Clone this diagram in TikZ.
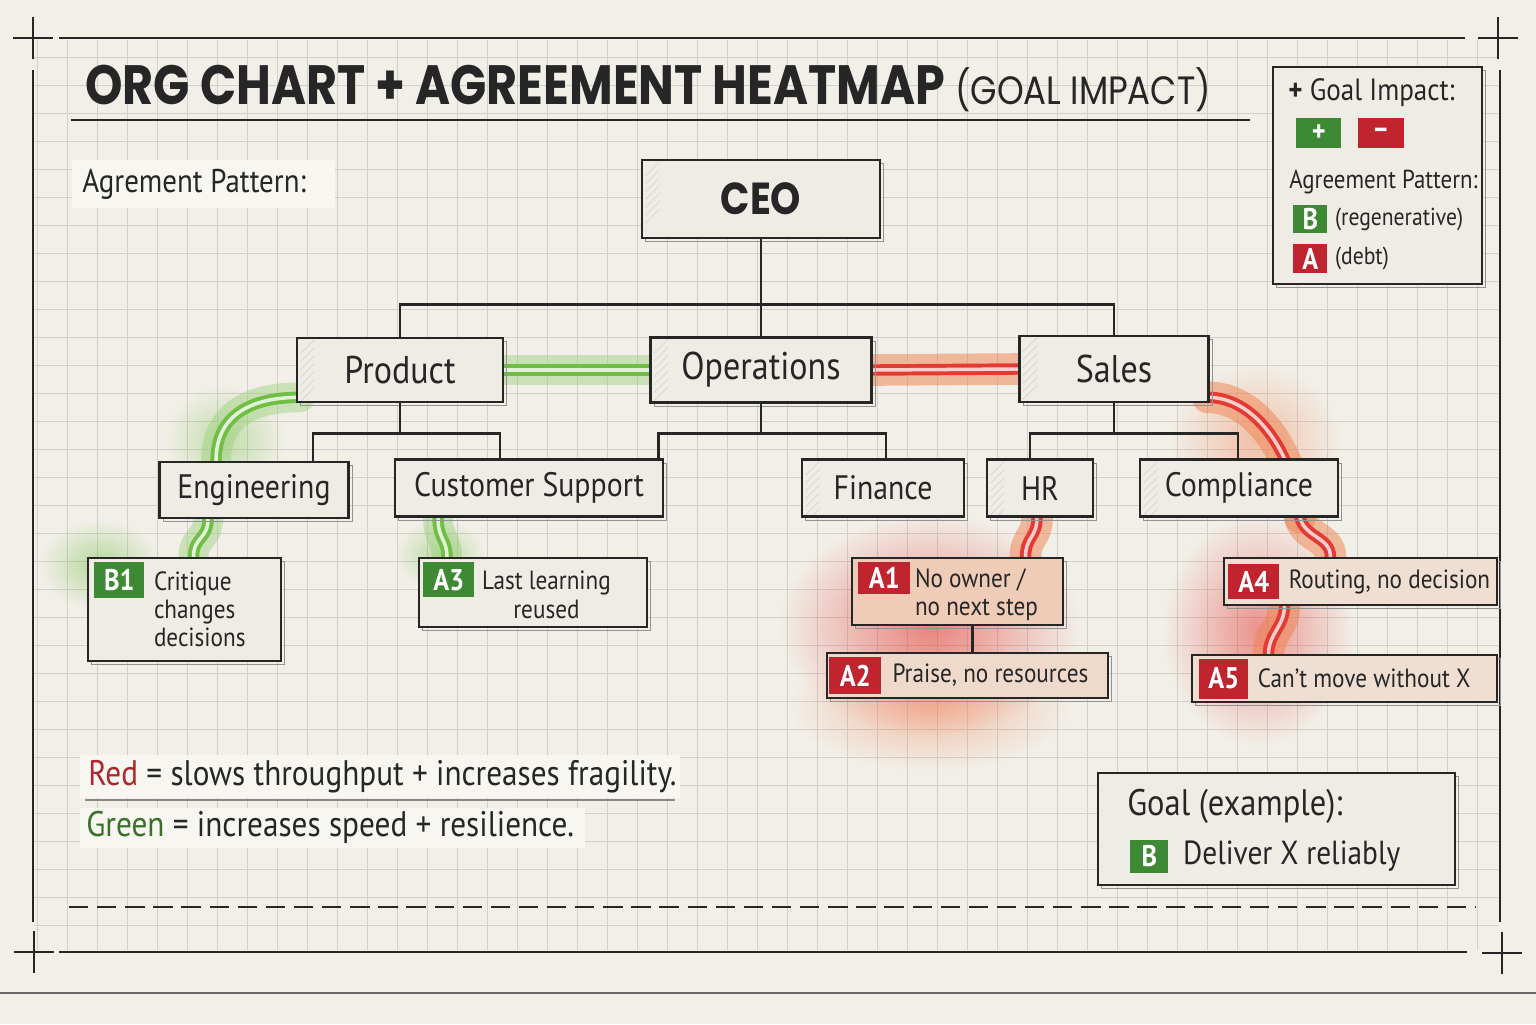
\documentclass[tikz,border=0pt]{standalone}
\usepackage{fontspec}
\setmainfont{PT Sans}[FakeStretch=0.88]
\newfontfamily\headfont{Poppins}[FakeStretch=0.86]
\usepackage{tikz}
\usetikzlibrary{positioning,calc,shadows,fadings,backgrounds}

\definecolor{paper}{RGB}{242,239,232}
\definecolor{paperlite}{RGB}{248,246,241}
\definecolor{gridc}{RGB}{210,208,202}
\definecolor{ink}{RGB}{38,38,38}
\definecolor{boxfill}{RGB}{239,236,229}
\definecolor{tagg}{RGB}{62,138,52}
\definecolor{tagr}{RGB}{192,36,46}
\definecolor{glowg}{RGB}{112,190,68}
\definecolor{glowr}{RGB}{228,58,52}
\definecolor{heato}{RGB}{240,130,80}
\definecolor{txtred}{RGB}{172,40,44}
\definecolor{txtgreen}{RGB}{58,112,40}

\newcommand\fsz[2]{\fontsize{#1}{#2}\selectfont}

\tikzfading[name=softspot, inner color=transparent!15, outer color=transparent!100]

\tikzset{
  sz/.style 2 args={minimum width=#1*0.2mm, minimum height=#2*0.2mm, inner sep=0pt},
  orgbox/.style={draw=ink, line width=1.5pt, fill=boxfill, text=ink,
    copy shadow={shadow xshift=2.2pt, shadow yshift=-2.2pt, draw=ink!50, line width=.7pt, fill=none}},
  hatched/.style={path picture={\foreach \k in {2,...,8}
      \draw[ink!22, line width=.3pt] ([xshift=2pt, yshift=-\k*4.5pt]path picture bounding box.north west) -- ++(8pt,8pt);}},
  level1/.style={orgbox, font=\fsz{22pt}{24pt}},
  level2/.style={orgbox, line width=1.3pt, font=\fsz{19.3pt}{21pt}},
  notebox/.style={orgbox, line width=1.2pt},
  notetext/.style={inner sep=0pt, font=\fsz{15pt}{16pt}},
  legtext/.style={inner sep=0pt, font=\fsz{14pt}{16pt}},
  tag/.style={fill=#1, text=white, font=\bfseries\fsz{17pt}{18pt}},
  tree/.style={draw=ink, line width=1.6pt},
  goodlink/.style={draw=glowg, line width=6.5pt, line cap=round,
    preaction={draw=glowg!70, line width=17pt, opacity=.45, line cap=round},
    postaction={draw=white!80!glowg, line width=2pt}},
  badlink/.style={draw=glowr, line width=6.5pt, line cap=round,
    preaction={draw=heato, line width=18pt, opacity=.5, line cap=round},
    postaction={draw=white!75!glowr, line width=2pt}}
}

\begin{document}
\begin{tikzpicture}[x=0.2mm, y=-0.2mm, every node/.style={text=ink}]
  \useasboundingbox (0,0) rectangle (1536,1024);

  % paper, grid and frame
  \begin{scope}[on background layer]
    \fill[paper] (0,0) rectangle (1536,1024);
    \foreach \gx in {37,67,...,1497} \draw[gridc, line width=.4pt] (\gx,40) -- (\gx,950);
    \foreach \gy in {57,85,...,950} \draw[gridc, line width=.4pt] (34,\gy) -- (1498,\gy);
    \draw[ink, line width=1.6pt] (59,38) -- (1465,38) (59,952) -- (1467,952) (33,70) -- (33,922) (1500,70) -- (1500,922);
    \foreach \cx/\cy in {33/38, 1498/38, 34/952, 1502/953}
      \draw[ink, line width=1.6pt] (\cx-20,\cy) -- (\cx+20,\cy) (\cx,\cy-21) -- (\cx,\cy+21);
    \draw[ink!70, line width=1pt] (0,993) -- (1536,993);
    \draw[ink, line width=1.3pt, dash pattern=on 11pt off 5pt] (69,907) -- (1475,907);
    \fill[paperlite] (72,160) rectangle (335,208);
    \fill[paperlite] (80,755) rectangle (680,798);
    \fill[paperlite] (80,808) rectangle (585,848);
  \end{scope}

  % title
  \node[anchor=west, inner sep=0pt, font=\headfont\bfseries\fsz{31.5pt}{34pt}] (title) at (85,88)
    {ORG CHART + AGREEMENT HEATMAP {\mdseries\fsz{22.5pt}{24pt}(GOAL IMPACT)}};
  \draw[ink, line width=1.6pt] (71,120) -- (1250,120);
  \node[anchor=west, inner sep=0pt, font=\fsz{18.7pt}{20pt}] (patlabel) at (82,184) {Agrement Pattern:};

  % org chart
  \node[orgbox, sz={238}{78}, hatched, font=\headfont\bfseries\fsz{25.5pt}{28pt}] (ceo) at (761,199) {CEO};
  \node[level1, sz={206}{64}, hatched] (prod) at (400,370) {Product};
  \node[level1, sz={221}{65}, hatched] (ops) at (761,370) {Operations};
  \node[level1, sz={189}{66}, hatched] (sales) at (1114,369) {Sales};
  \node[level2, sz={189}{56}] (eng) at (254,490) {Engineering};
  \node[level2, sz={268}{57}] (cs) at (529,488) {Customer Support};
  \node[level2, sz={162}{57}, hatched] (fin) at (883,488) {Finance};
  \node[level2, sz={106}{57}, hatched] (hr) at (1040,488) {HR};
  \node[level2, sz={198}{57}, hatched] (comp) at (1239,488) {Compliance};

  \draw[tree] (ceo.south) -- ++(0,65) coordinate (topbus);
  \draw[tree] (prod.north) |- (topbus) -| (sales.north);
  \draw[tree] (topbus) -- (ops.north);
  \draw[tree] (prod.south) -- ++(0,30) coordinate (pbus);
  \draw[tree] ($(eng.north)+(59,0)$) |- (pbus) -| ($(cs.north)+(-29,0)$);
  \draw[tree] (ops.south) -- ++(0,30) coordinate (obus);
  \draw[tree] ($(cs.north east)+(-6,0)$) |- (obus) -| ($(fin.north)+(3,0)$);
  \draw[tree] (sales.south) -- ++(0,30) coordinate (sbus);
  \draw[tree] ($(hr.north)+(-10,0)$) |- (sbus) -| ($(comp.north)+(-1,0)$);

  % agreement notes
  \node[notebox, sz={193}{103}] (b1) at (184.5,609.5) {};
  \node[tag=tagg, sz={50}{36}, anchor=north west] (b1tag) at ($(b1.north west)+(7,5)$) {B1};
  \node[notetext, anchor=north west, align=left] (b1txt) at ($(b1tag.north east)+(9,9)$) {Critique\\changes\\decisions};

  \node[notebox, sz={228}{69}] (a3) at (533,592.5) {};
  \node[tag=tagg, sz={51}{35}, anchor=north west] (a3tag) at ($(a3.north west)+(5,5)$) {A3};
  \node[notetext, anchor=north west, align=center] (a3txt) at ($(a3tag.north east)+(7,9)$) {Last learning\\reused};

  \node[notebox, sz={211}{67}, fill=boxfill!70!heato] (a1) at (957.5,591.5) {};
  \node[tag=tagr, sz={52}{32}, anchor=north west] (a1tag) at ($(a1.north west)+(7,5)$) {A1};
  \node[notetext, anchor=north west, align=left] (a1txt) at ($(a1tag.north east)+(4,6)$) {No owner /\\no next step};

  \node[notebox, sz={281}{45}, fill=boxfill!82!heato] (a2) at (967.5,675.5) {};
  \node[tag=tagr, sz={52}{37}, anchor=west] (a2tag) at ($(a2.west)+(3,0)$) {A2};
  \node[notetext, right=6pt of a2tag] (a2txt) {Praise, no resources};

  \node[notebox, sz={273}{47}, fill=boxfill!88!heato] (a4) at (1360.5,581.5) {};
  \node[tag=tagr, sz={51}{35}, anchor=west] (a4tag) at ($(a4.west)+(5,0)$) {A4};
  \node[notetext, right=5pt of a4tag] (a4txt) {Routing, no decision};

  \node[notebox, sz={305}{47}, fill=boxfill!88!heato] (a5) at (1344.5,678.5) {};
  \node[tag=tagr, sz={49}{40}, anchor=west] (a5tag) at ($(a5.west)+(8,0)$) {A5};
  \node[notetext, right=5pt of a5tag] (a5txt) {Can’t move without X};

  \draw[tree, line width=1.3pt] ($(a1.south)+(15,0)$) coordinate (a1foot) -- (a1foot |- a2.north);

  % heat and agreement links, behind the boxes
  \begin{scope}[on background layer]
    \fill[glowr, path fading=softspot, opacity=.7] (930,625) ellipse (150 and 110);
    \fill[heato, path fading=softspot, opacity=.55] (930,705) ellipse (140 and 65);
    \fill[glowr, path fading=softspot, opacity=.6] (1258,630) ellipse (95 and 115);
    \fill[heato, path fading=softspot, opacity=.5] (1255,440) ellipse (85 and 75);
    \fill[glowg, path fading=softspot, opacity=.55] (100,565) ellipse (60 and 45);
    \fill[glowg, path fading=softspot, opacity=.5] (440,555) ellipse (45 and 35);
    \fill[glowg, path fading=softspot, opacity=.45] (225,440) ellipse (60 and 55);

    \draw[goodlink] (prod.east) -- (ops.west);
    \draw[goodlink] ($(prod.south west)+(4,-6)$) .. controls +(-50,0) and +(0,-45) .. ($(eng.north)+(-38,0)$);
    \draw[goodlink] ($(eng.south)+(-46,0)$) .. controls +(0,20) and +(0,-20) .. ($(b1.north)+(9,0)$);
    \draw[goodlink] ($(cs.south)+(-91,0)$) .. controls +(0,22) and +(0,-18) .. ($(a3.north)+(-86,0)$);

    \draw[badlink] (ops.east) -- (sales.west);
    \draw[badlink] ($(sales.south east)+(-2,-6)$) .. controls +(50,0) and +(-5,-60) .. ($(comp.south)+(61,0)$);
    \draw[badlink] ($(comp.south)+(61,0)$) .. controls +(5,20) and +(0,-20) .. ($(a4.north)+(-30,0)$);
    \draw[badlink] ($(a4.south)+(-76,0)$) .. controls +(0,20) and +(0,-20) .. ($(a5.north)+(-76,0)$);
    \draw[badlink] ($(hr.south)+(-3,0)$) .. controls +(0,20) and +(0,-20) .. ($(a1.north)+(68,0)$);
  \end{scope}

  % legend
  \node[notebox, line width=1.3pt, sz={209}{217}] (legend) at (1377.5,175.5) {};
  \node[legtext, anchor=west, font=\fsz{17.5pt}{19pt}] (gimp) at (1288,93) {\textbf{+} Goal Impact:};
  \node[tag=tagg, sz={45}{30}, anchor=north west] (plus) at (1296,118) {+};
  \node[tag=tagr, sz={46}{30}, right=9pt of plus] (minus) {–};
  \node[legtext, anchor=west, font=\fsz{14.8pt}{16pt}] (patkey) at (1289,182) {Agreement Pattern:};
  \node[tag=tagg, sz={34}{28}, anchor=north west] (keyb) at (1293,205) {B};
  \node[legtext, right=4pt of keyb] (keybtxt) {(regenerative)};
  \node[tag=tagr, sz={34}{29}, anchor=north west] (keya) at (1293,244) {A};
  \node[legtext, right=4pt of keya] (keyatxt) {(debt)};

  % key lines
  \draw[ink!55, line width=1pt] (85,800) -- (675,800);
  \node[anchor=west, inner sep=0pt, font=\fsz{20.2pt}{22pt}] (redkey) at (88,777)
    {\textcolor{txtred}{Red} = slows throughput + increases fragility.};
  \node[anchor=west, inner sep=0pt, font=\fsz{20.2pt}{22pt}] (greenkey) at (86,827)
    {\textcolor{txtgreen}{Green} = increases speed + resilience.};

  % goal
  \node[notebox, sz={357}{112}] (goal) at (1276.5,829) {};
  \node[anchor=west, inner sep=0pt, font=\fsz{21pt}{22pt}] (goalhead) at (1127,806) {Goal (example):};
  \node[tag=tagg, sz={38}{33}, anchor=west] (goaltag) at (1130,856.5) {B};
  \node[right=8pt of goaltag, inner sep=0pt, font=\fsz{19pt}{20pt}] (goaltxt) {Deliver X reliably};
\end{tikzpicture}
\end{document}
